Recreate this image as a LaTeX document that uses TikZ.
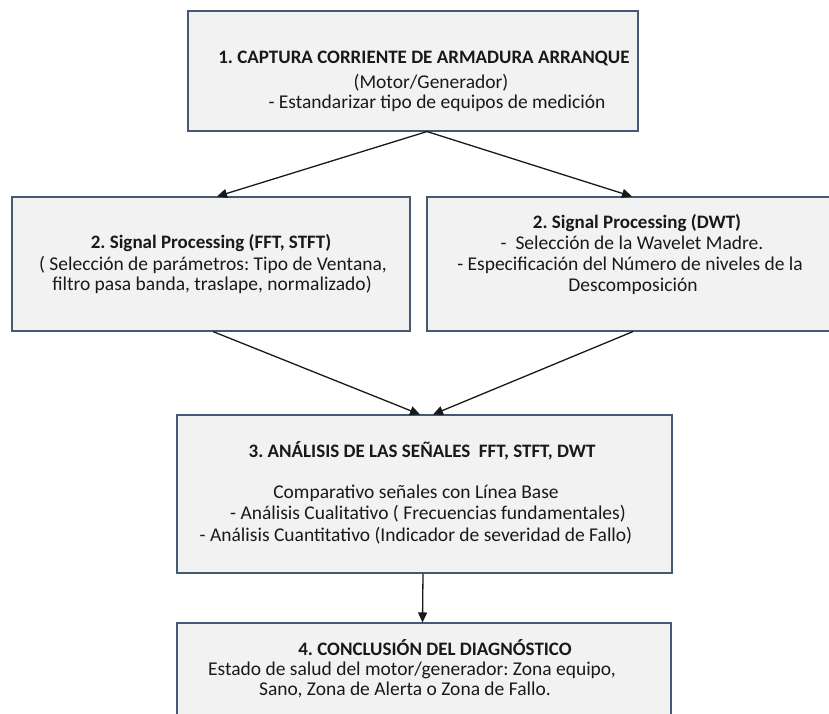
\documentclass[tikz,border=0pt]{standalone}
\usepackage{fontspec}
\setmainfont{Carlito}
\usetikzlibrary{arrows.meta,calc}
\definecolor{boxfill}{RGB}{242,242,242}
\definecolor{boxline}{RGB}{68,89,116}
\definecolor{ink}{RGB}{25,25,25}
\frenchspacing
\begin{document}
\begin{tikzpicture}[x=1pt,y=-1pt,
  box/.style={draw=boxline, fill=boxfill, line width=1.1pt, inner sep=0pt, rectangle},
  txt/.style={anchor=base, inner sep=0pt, text=ink, font=\fontsize{19.5}{21}\selectfont},
  ttl/.style={txt, font=\fontsize{19}{21}\selectfont\bfseries},
  arr/.style={draw=ink, line width=1.3pt, -{Triangle[length=10pt,width=9pt]}}
]
\clip (0,0) rectangle (829,713);

% process boxes
\node[box, minimum width=450, minimum height=120] (b1)  at (413,71)   {};
\node[box, minimum width=398, minimum height=134] (b2l) at (211,264)  {};
\node[box, minimum width=410, minimum height=134] (b2r) at (632,264)  {};
\node[box, minimum width=495, minimum height=158] (b3)  at (424.5,494) {};
\node[box, minimum width=494, minimum height=100] (b4)  at (424,673)  {};

% step 1
\node[ttl] (b1a) at (424,63)  {1. CAPTURA CORRIENTE DE ARMADURA ARRANQUE};
\node[txt] (b1b) at (431,88)  {(Motor/Generador)};
\node[txt] (b1c) at (437,108) {- Estandarizar tipo de equipos de medición};

% step 2, Fourier branch
\node[ttl] (b2la) at (211,248) {2. Signal Processing (FFT, STFT)};
\node[txt] (b2lb) at (213,270) {( Selección de parámetros: Tipo de Ventana,};
\node[txt] (b2lc) at (212,290) {filtro pasa banda, traslape, normalizado)};

% step 2, wavelet branch
\node[ttl] (b2ra) at (637,228) {2. Signal Processing (DWT)};
\node[txt] (b2rb) at (632,249) {- \ Selección de la Wavelet Madre.};
\node[txt] (b2rc) at (630,270) {- Especificación del Número de niveles de la};
\node[txt] (b2rd) at (633,291) {Descomposición};

% step 3
\node[ttl] (b3a) at (422,457) {3. ANÁLISIS DE LAS SEÑALES \ FFT, STFT, DWT};
\node[txt] (b3b) at (416,498) {Comparativo señales con Línea Base};
\node[txt] (b3c) at (428,519.5) {- Análisis Cualitativo ( Frecuencias fundamentales)};
\node[txt] (b3d) at (416,541) {- Análisis Cuantitativo (Indicador de severidad de Fallo)};

% step 4
\node[ttl] (b4a) at (435,655) {4. CONCLUSIÓN DEL DIAGNÓSTICO};
\node[txt] (b4b) at (412,675) {Estado de salud del motor/generador: Zona equipo,};
\node[txt] (b4c) at (405,695) {Sano, Zona de Alerta o Zona de Fallo.};

% connectors
\draw[arr] ($(b1.south)+(14,0)$) -- ($(b2l.north)+(6,0)$);
\draw[arr] ($(b1.south)+(14,0)$) -- (b2r.north);
\draw[arr] ($(b2l.south)+(2,0)$) -- ($(b3.north)+(-4.5,0)$);
\draw[arr] ($(b2r.south)+(1,0)$) -- ($(b3.north)+(8.5,0)$);
\draw[arr] ($(b3.south)+(-1.5,0)$) -- ($(b4.north)+(-1.5,0)$);
\end{tikzpicture}
\end{document}
